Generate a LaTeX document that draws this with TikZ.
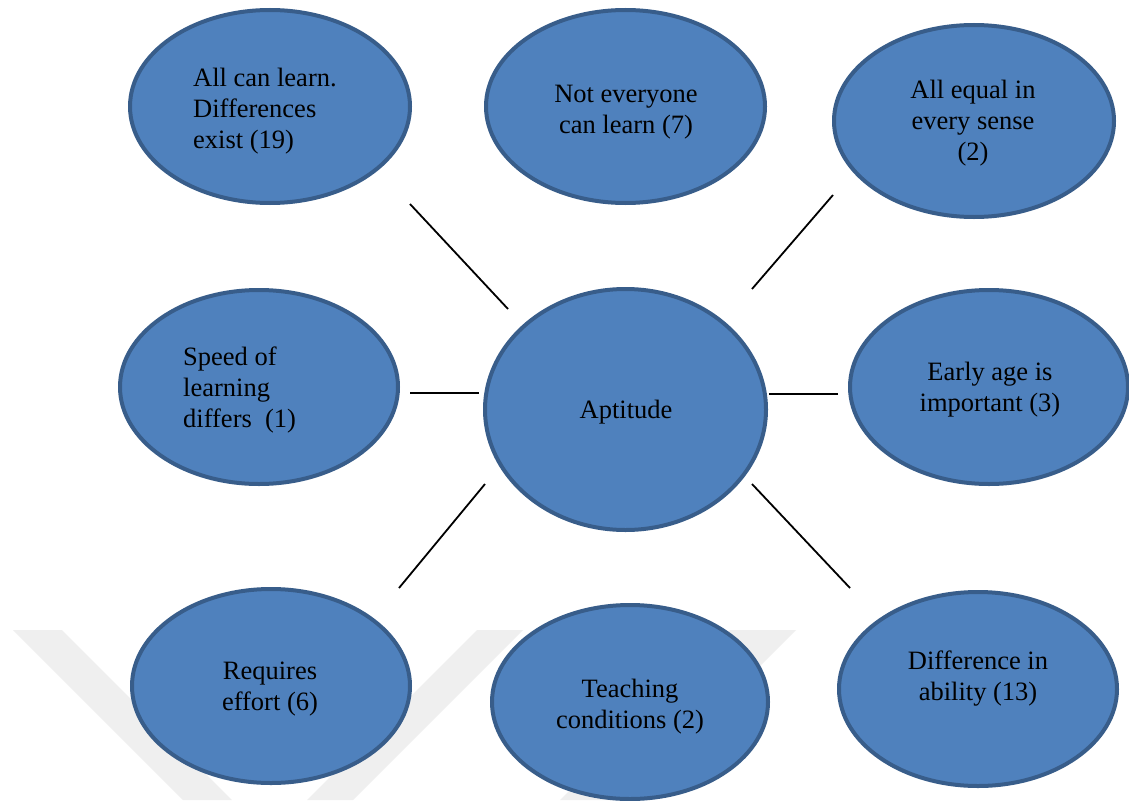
\documentclass[tikz,border=0pt]{standalone}
\usepackage{fontspec}
\setmainfont{Liberation Serif}
\usetikzlibrary{shapes.geometric}
\definecolor{bubblefill}{HTML}{4F81BD}
\definecolor{bubbleline}{HTML}{385D8A}
\definecolor{wmark}{HTML}{EFEFEF}
\tikzset{
  bubble/.style={ellipse, draw=bubbleline, fill=bubblefill, line width=4pt, inner sep=0pt},
  txt/.style={inner sep=0pt, font=\fontsize{26.5}{31}\selectfont, text=black},
  link/.style={draw=black, line width=1.8pt},
  band/.style={fill=wmark, draw=none}
}
\begin{document}
\begin{tikzpicture}[x=1pt, y=-1pt]
\useasboundingbox (0,0) rectangle (1129,800);
\fill[white] (0,0) rectangle (1129,800);
% watermark bands
\path[band] (13,630) -- (62,630) -- (232,800) -- (183,800) -- cycle;
\path[band] (477,630) -- (523,630) -- (353,800) -- (307,800) -- cycle;
\path[band] (730,630) -- (796,630) -- (626,800) -- (560,800) -- cycle;
% ellipses
\node[bubble, minimum width=280pt, minimum height=193pt] (n1) at (270,106.5) {};
\node[bubble, minimum width=279pt, minimum height=193pt] (n2) at (625.5,106.5) {};
\node[bubble, minimum width=280pt, minimum height=192pt] (n3) at (974,121) {};
\node[bubble, minimum width=278pt, minimum height=194pt] (n4) at (259,387) {};
\node[bubble, minimum width=281pt, minimum height=241pt] (apt) at (625.5,409.5) {};
\node[bubble, minimum width=278pt, minimum height=194pt] (n5) at (989,387) {};
\node[bubble, minimum width=278pt, minimum height=194pt] (n6) at (271,686) {};
\node[bubble, minimum width=276pt, minimum height=194pt] (n7) at (630,702) {};
\node[bubble, minimum width=278pt, minimum height=194pt] (n8) at (978,689) {};
% texts
\node[txt, anchor=west, align=left] (t1) at (193,111) {All can learn.\\Differences\\exist (19)};
\node[txt, align=center] (t2) at (626,112) {Not everyone\\can learn (7)};
\node[txt, align=center] (t3) at (973,123) {All equal in\\every sense\\(2)};
\node[txt, anchor=west, align=left] (t4) at (183,390) {Speed of\\learning\\differs\ \ (1)};
\node[txt, align=center] (t0) at (626,412) {Aptitude};
\node[txt, align=center] (t5) at (990,390) {Early age is\\important (3)};
\node[txt, align=center] (t6) at (270,689.5) {Requires\\effort (6)};
\node[txt, align=center] (t7) at (630,706.5) {Teaching\\conditions (2)};
\node[txt, align=center] (t8) at (978,678.5) {Difference in\\ability (13)};
% connector end points
\coordinate (a1) at (410,204);  \coordinate (b1) at (508,309);
\coordinate (a2) at (833,195);  \coordinate (b2) at (752,289);
\coordinate (a3) at (410,393);  \coordinate (b3) at (479,393);
\coordinate (a4) at (838,394);  \coordinate (b4) at (769,394);
\coordinate (a5) at (399,588);  \coordinate (b5) at (485,484);
\coordinate (a6) at (850,588);  \coordinate (b6) at (752,484);
\draw[link] (a1) -- (b1);
\draw[link] (a2) -- (b2);
\draw[link] (a3) -- (b3);
\draw[link] (a4) -- (b4);
\draw[link] (a5) -- (b5);
\draw[link] (a6) -- (b6);
\end{tikzpicture}
\end{document}
